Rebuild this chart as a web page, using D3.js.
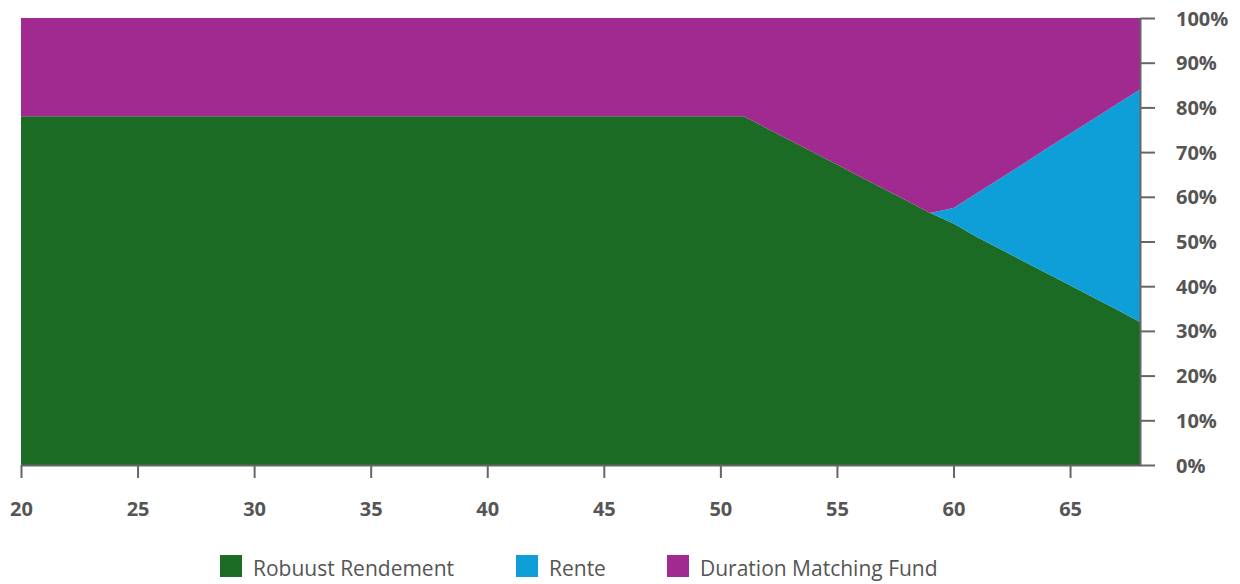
<!DOCTYPE html>
<html>
<head>
<meta charset="utf-8">
<script src="https://cdn.jsdelivr.net/npm/d3@7"></script>
<style>
  body { margin: 0; background: #fff; }
  svg { display: block; font-family: "Open Sans", sans-serif; }
  .axis text { font-family: "Open Sans", sans-serif; font-weight: 700; font-size: 20px; fill: #555; }
  .axis path, .axis line { stroke: #666; stroke-width: 2px; }
  .legend text { font-size: 21px; fill: #555; }
</style>
</head>
<body>
<svg width="1240" height="584"></svg>
<script>
// ages on the x axis
const ages = d3.range(20, 69);
// share per fund, %
const robuust = [78, 78, 78, 78, 78, 78, 78, 78, 78, 78,
                 78, 78, 78, 78, 78, 78, 78, 78, 78, 78,
                 78, 78, 78, 78, 78, 78, 78, 78, 78, 78,
                 78, 78, 75.3, 72.6, 69.9, 67.2, 64.5, 61.8, 59.1, 56.4,
                 54.0, 51.0, 48.3, 45.6, 42.9, 40.2, 37.5, 34.8, 32];
const rente = [0, 0, 0, 0, 0, 0, 0, 0, 0, 0,
               0, 0, 0, 0, 0, 0, 0, 0, 0, 0,
               0, 0, 0, 0, 0, 0, 0, 0, 0, 0,
               0, 0, 0, 0, 0, 0, 0, 0, 0, 0,
               3.5, 9.8, 15.8, 21.8, 27.9, 33.9, 39.9, 45.9, 52];
const duration = robuust.map((v, i) => 100 - v - rente[i]);

const keys = ['Robuust Rendement', 'Rente', 'Duration Matching Fund'];
const colors = ['#1c6b25', '#0f9fd8', '#a02a90'];
const xTicks = [20, 25, 30, 35, 40, 45, 50, 55, 60, 65];
const yTicks = [0, 10, 20, 30, 40, 50, 60, 70, 80, 90, 100];

const table = ages.map((a, i) => ({
  age: a,
  'Robuust Rendement': robuust[i],
  'Rente': rente[i],
  'Duration Matching Fund': duration[i]
}));

const svg = d3.select('svg');
const margin = {left: 21, right: 100, top: 18, bottom: 119};
const width = 1240, height = 584;

const x = d3.scaleLinear().domain([20, 68]).range([margin.left, width - margin.right]);
const y = d3.scaleLinear().domain([0, 100]).range([height - margin.bottom, margin.top]);
const color = d3.scaleOrdinal().domain(keys).range(colors);

const series = d3.stack().keys(keys)(table);

const area = d3.area()
  .x(d => x(d.data.age))
  .y0(d => y(d[0]))
  .y1(d => y(d[1]));

svg.append('g').selectAll('path')
  .data(series)
  .enter().append('path')
    .attr('d', area)
    .attr('fill', d => color(d.key));

// bottom axis
svg.append('g')
  .attr('class', 'axis')
  .attr('transform', `translate(0,${y(0)})`)
  .call(d3.axisBottom(x).tickValues(xTicks).tickSize(13).tickSizeOuter(0).tickPadding(24));

// right axis
const yAxisG = svg.append('g')
  .attr('class', 'axis')
  .attr('transform', `translate(${x(68)},0)`)
  .call(d3.axisRight(y).tickValues(yTicks).tickSize(15).tickSizeOuter(0).tickPadding(21)
    .tickFormat(d => d + '%'));
yAxisG.selectAll('text').attr('dy', '0.35em');

// legend
const legendItems = [
  {key: keys[0], x: 220},
  {key: keys[1], x: 516},
  {key: keys[2], x: 667}
];
const legend = svg.append('g').attr('class', 'legend');
const items = legend.selectAll('g')
  .data(legendItems)
  .enter().append('g')
    .attr('transform', d => `translate(${d.x},555)`);
items.append('rect')
  .attr('width', 22)
  .attr('height', 22)
  .attr('fill', d => color(d.key));
items.append('text')
  .attr('x', 33)
  .attr('y', 14)
  .attr('dy', '0.35em')
  .text(d => d.key);
</script>
</body>
</html>
